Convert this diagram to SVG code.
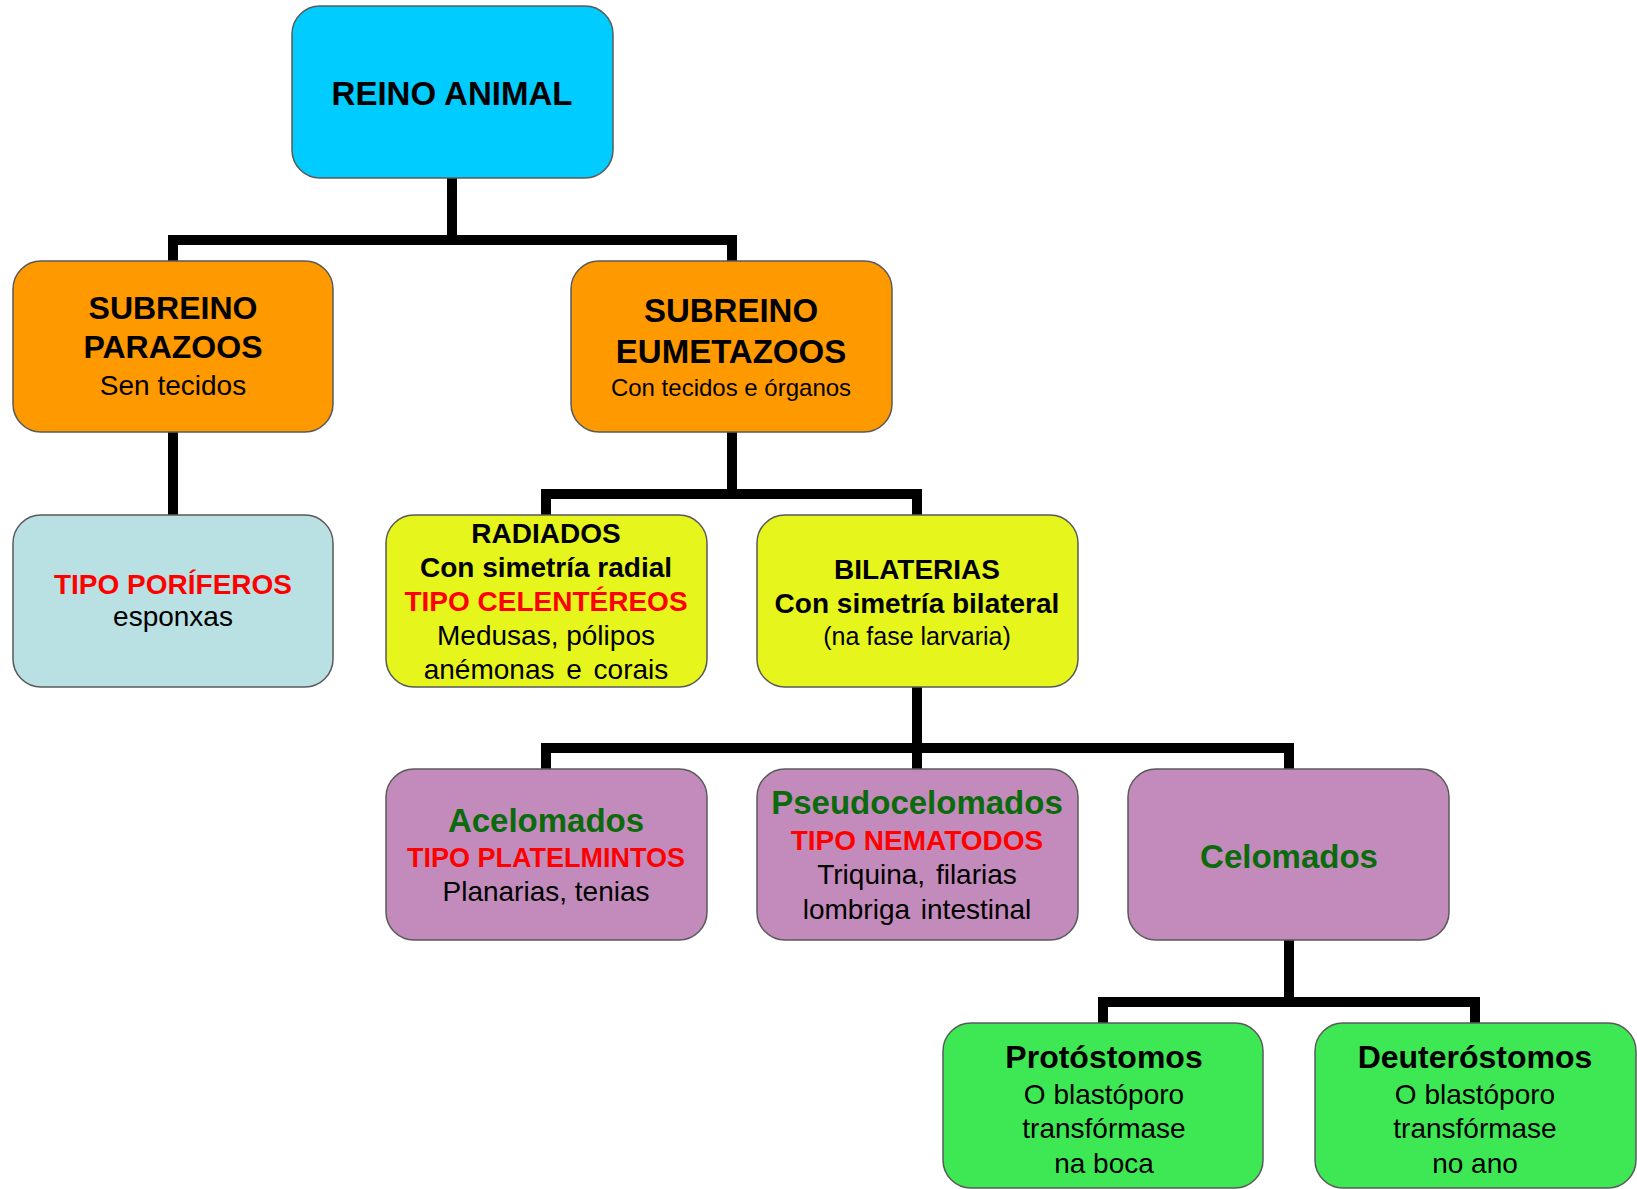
<svg xmlns="http://www.w3.org/2000/svg" width="1637" height="1189" viewBox="0 0 1637 1189">
<style>
.box{stroke:#5a5a5a;stroke-width:1.5}
.conn{fill:none;stroke:#000;stroke-width:10;stroke-linejoin:miter;stroke-linecap:butt}
text{font-family:"Liberation Sans",Arial,sans-serif;text-anchor:middle;fill:#000}
.b{font-weight:bold}
.red{fill:#ff0000}
.grn{fill:#0b6a0b}
</style>
<rect width="1637" height="1189" fill="#fff"/>
<g id="connectors">
<path class="conn" d="M452,178 V240"/>
<path class="conn" d="M173,261 V240 H732 V261"/>
<path class="conn" d="M173,432 V515"/>
<path class="conn" d="M732,432 V494"/>
<path class="conn" d="M546,515 V494 H917 V515"/>
<path class="conn" d="M917,687 V769"/>
<path class="conn" d="M546,769 V748 H1289 V769"/>
<path class="conn" d="M1289,940 V1002"/>
<path class="conn" d="M1103,1023 V1002 H1475 V1023"/>
</g>
<g id="reino">
<rect class="box" x="292" y="6" width="321" height="172" rx="28" fill="#00ccff"/>
<text class="b" x="452" y="105" font-size="33">REINO ANIMAL</text>
</g>
<g id="parazoos">
<rect class="box" x="13" y="261" width="320" height="171" rx="28" fill="#ff9900"/>
<text class="b" x="173" y="319" font-size="32">SUBREINO</text>
<text class="b" x="173" y="358" font-size="32">PARAZOOS</text>
<text x="173" y="395" font-size="28">Sen tecidos</text>
</g>
<g id="eumetazoos">
<rect class="box" x="571" y="261" width="321" height="171" rx="28" fill="#ff9900"/>
<text class="b" x="731" y="322" font-size="33">SUBREINO</text>
<text class="b" x="731" y="363" font-size="33">EUMETAZOOS</text>
<text x="731" y="396" font-size="24">Con tecidos e órganos</text>
</g>
<g id="poriferos">
<rect class="box" x="13" y="515" width="320" height="172" rx="28" fill="#b9e0e3"/>
<text class="b red" x="173" y="594" font-size="28">TIPO PORÍFEROS</text>
<text x="173" y="626" font-size="28">esponxas</text>
</g>
<g id="radiados">
<rect class="box" x="386" y="515" width="321" height="172" rx="28" fill="#e6f61c"/>
<text class="b" x="546" y="543" font-size="28">RADIADOS</text>
<text class="b" x="546" y="577" font-size="28">Con simetría radial</text>
<text class="b red" x="546" y="611" font-size="28">TIPO CELENTÉREOS</text>
<text x="546" y="645" font-size="28">Medusas, pólipos</text>
<text x="546" y="679" font-size="28" word-spacing="4">anémonas e corais</text>
</g>
<g id="bilaterias">
<rect class="box" x="757" y="515" width="321" height="172" rx="28" fill="#e6f61c"/>
<text class="b" x="917" y="579" font-size="28">BILATERIAS</text>
<text class="b" x="917" y="613" font-size="28">Con simetría bilateral</text>
<text x="917" y="645" font-size="25">(na fase larvaria)</text>
</g>
<g id="acelomados">
<rect class="box" x="386" y="769" width="321" height="171" rx="28" fill="#c38bbb"/>
<text class="b grn" x="546" y="832" font-size="33">Acelomados</text>
<text class="b red" x="546" y="867" font-size="27">TIPO PLATELMINTOS</text>
<text x="546" y="901" font-size="28">Planarias, tenias</text>
</g>
<g id="pseudocelomados">
<rect class="box" x="757" y="769" width="321" height="171" rx="28" fill="#c38bbb"/>
<text class="b grn" x="917" y="814" font-size="33">Pseudocelomados</text>
<text class="b red" x="917" y="850" font-size="28">TIPO NEMATODOS</text>
<text x="917" y="884" font-size="28" word-spacing="3">Triquina, filarias</text>
<text x="917" y="919" font-size="28" word-spacing="3">lombriga intestinal</text>
</g>
<g id="celomados">
<rect class="box" x="1128" y="769" width="321" height="171" rx="28" fill="#c38bbb"/>
<text class="b grn" x="1289" y="868" font-size="33">Celomados</text>
</g>
<g id="protostomos">
<rect class="box" x="943" y="1023" width="320" height="165" rx="28" fill="#3ee854"/>
<text class="b" x="1104" y="1068" font-size="32">Protóstomos</text>
<text x="1104" y="1104" font-size="28">O blastóporo</text>
<text x="1104" y="1138" font-size="28">transfórmase</text>
<text x="1104" y="1173" font-size="28">na boca</text>
</g>
<g id="deuterostomos">
<rect class="box" x="1315" y="1023" width="321" height="165" rx="28" fill="#3ee854"/>
<text class="b" x="1475" y="1068" font-size="32">Deuteróstomos</text>
<text x="1475" y="1104" font-size="28">O blastóporo</text>
<text x="1475" y="1138" font-size="28">transfórmase</text>
<text x="1475" y="1173" font-size="28">no ano</text>
</g>
</svg>
